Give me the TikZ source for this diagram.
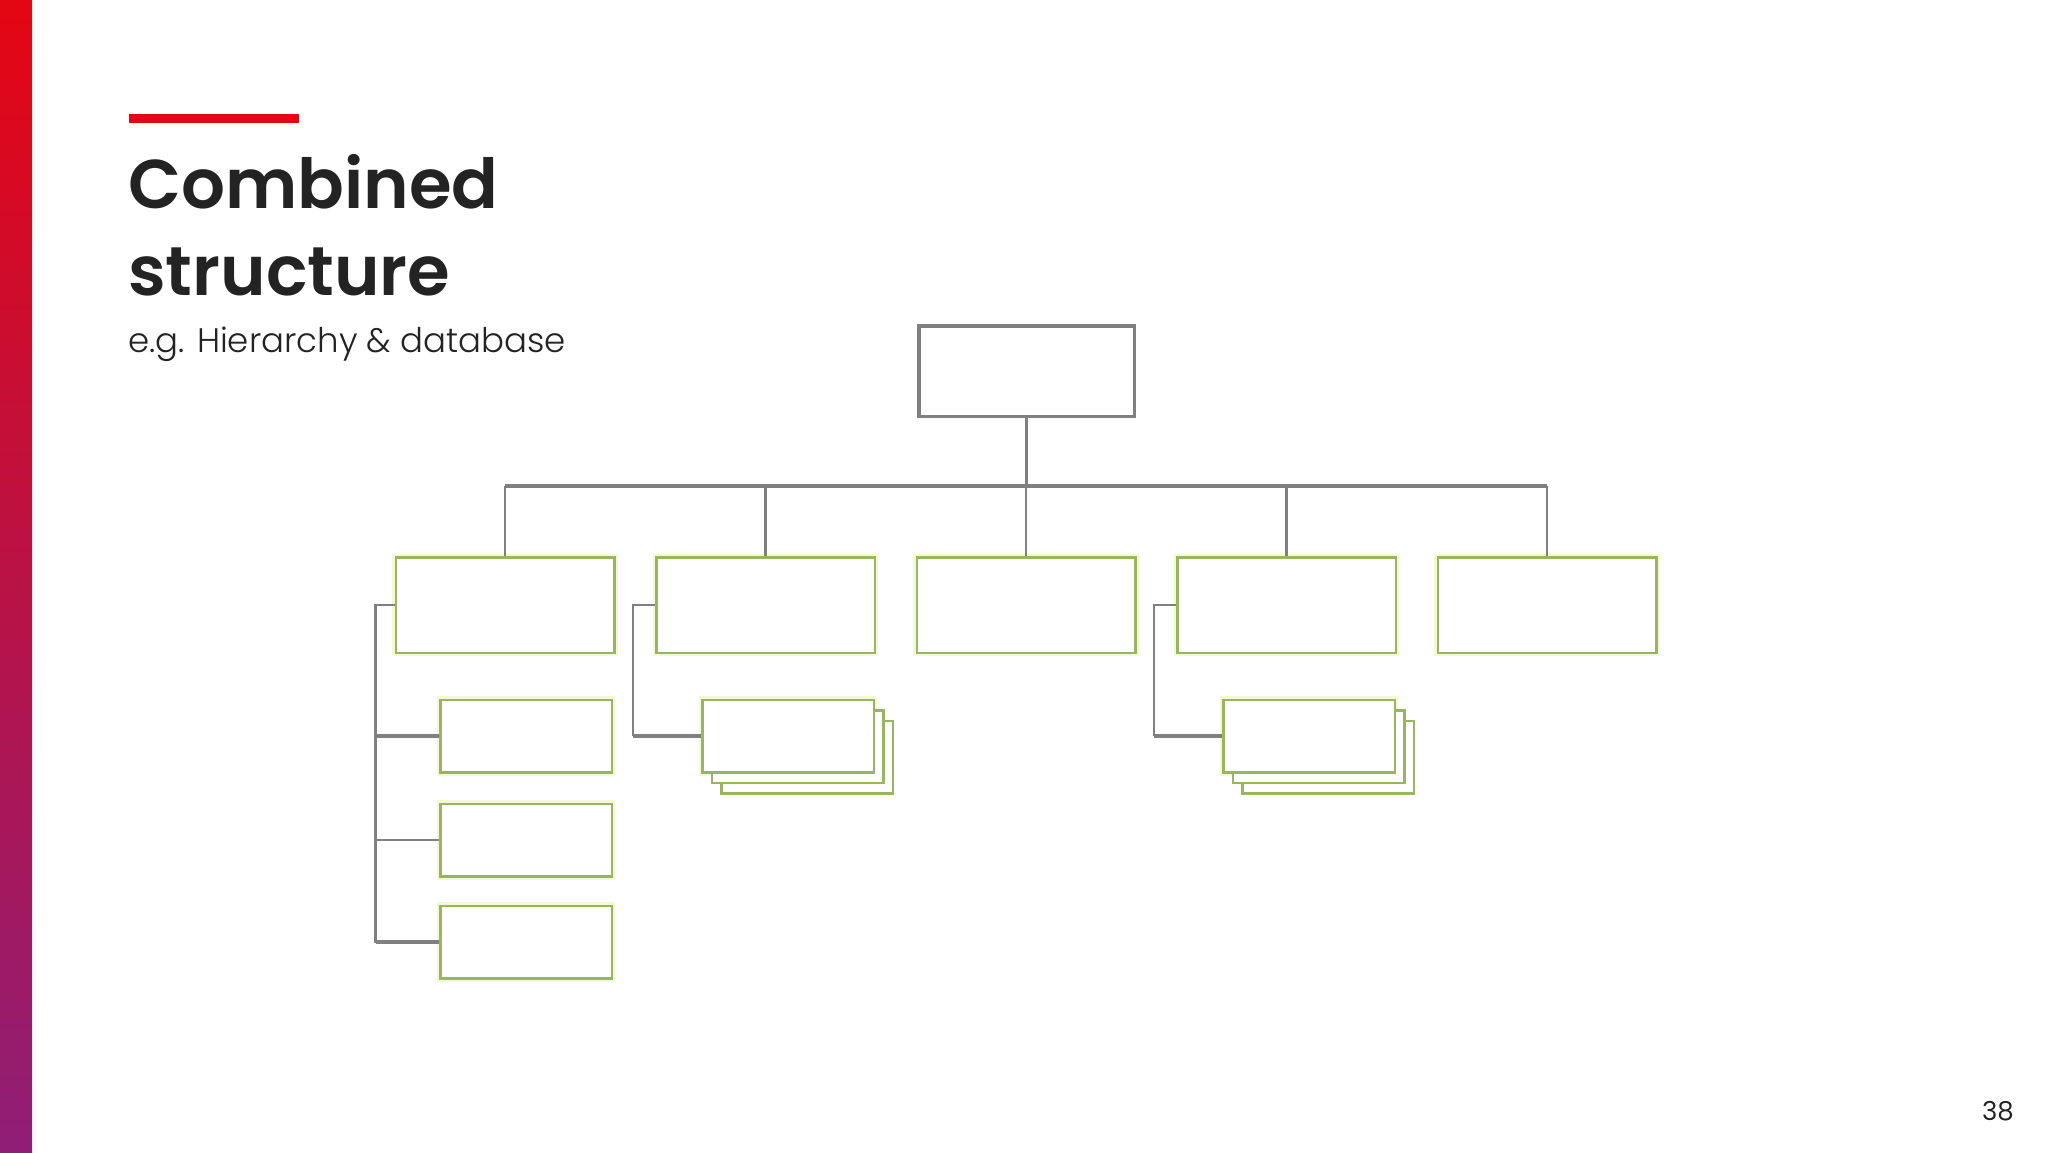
\documentclass[tikz,border=0pt]{standalone}
\usepackage{fontspec}
\setmainfont{Poppins}
\newfontfamily\lightfont{Poppins Light}
\newfontfamily\titlefont{Poppins SemiBold}
\usetikzlibrary{shadows,positioning}
\definecolor{barred}{RGB}{228,6,19}
\definecolor{barmid}{RGB}{198,16,58}
\definecolor{barpurple}{RGB}{143,30,118}
\definecolor{titlegray}{RGB}{35,35,35}
\definecolor{linegray}{RGB}{128,128,128}
\definecolor{boxgreen}{RGB}{152,182,98}
\definecolor{boxglow}{RGB}{244,249,212}

\begin{document}
\begin{tikzpicture}[x=1pt,y=-1pt,
  every node/.style={inner sep=0pt},
  headbox/.style={draw=linegray,line width=3.5pt,fill=white,minimum width=215.5pt,minimum height=90.5pt},
  unitbox/.style={draw=boxgreen,line width=2.5pt,fill=white,minimum width=218.5pt,minimum height=95.5pt,
    preaction={draw=boxglow,line width=7pt}},
  subbox/.style={unitbox,minimum width=171.5pt,minimum height=72.5pt},
  stackbox/.style={subbox,double copy shadow={shadow xshift=9.5pt,shadow yshift=-10.5pt,
    draw=boxgreen,fill=white,line width=2.5pt}},
  link/.style={draw=linegray,line width=2.5pt},
  stub/.style={link,line width=4.5pt}]

%page and side bar
    \useasboundingbox (0,0) rectangle (2048,1152);
    \fill[white] (0,0) rectangle (2048,1152);
    \shade[top color=barred,middle color=barmid,bottom color=barpurple] (0,0) rectangle (32,1152);
    \fill[barred] (129,114) rectangle (299,123);

%title
    \node[anchor=base west,text=titlegray,font=\titlefont\fontsize{69}{86}\selectfont] (title1) at (128,208) {Combined};
    \node[anchor=base west,text=titlegray,font=\titlefont\fontsize{69}{86}\selectfont] (title2) at (128,295) {structure};
    \node[anchor=base west,text=titlegray,font=\lightfont\fontsize{34}{40}\selectfont] (subtitle) at (128,352) {e.g. Hierarchy \& database};
    \node[anchor=base east,text=titlegray,font=\fontsize{26}{30}\selectfont] (page) at (2014,1120) {38};

%boxes
    \node[headbox] (root) at (1026.5,371) {};
    \foreach \i in {1,...,5}
    \node[unitbox] (u\i) at (505+260.5*\i-260.5,605) {};
    \node[subbox] (c11) at (526,736) {};
    \node[subbox] (c12) at (526,840) {};
    \node[subbox] (c13) at (526,942) {};
    \node[stackbox] (c2) at (788,736) {};
    \node[stackbox] (c4) at (1309,736) {};

%bus and drops
    \coordinate (busL) at (505,486);
    \coordinate (busR) at (1547,486);
    \draw[link,line width=4pt] (busL) -- (busR);
    \draw[link] (root.south) -- (root.south |- busL);
    \foreach \i in {1,...,5}
    \draw[link] (u\i.north) -- (u\i.north |- busL);

%brackets
    \draw[link] (u1.west) -- ++(-19,0) coordinate (k1) |- (c13.west);
    \draw[stub] (k1 |- c11.west) -- (c11.west);
    \draw[link] (k1 |- c12.west) -- (c12.west);
    \draw[stub] (k1 |- c13.west) -- (c13.west);
    \draw[link] (u2.west) -- ++(-22,0) coordinate (k2) -- (k2 |- c2.west);
    \draw[stub] (k2 |- c2.west) -- (c2.west);
    \draw[link] (u4.west) -- ++(-22,0) coordinate (k4) -- (k4 |- c4.west);
    \draw[stub] (k4 |- c4.west) -- (c4.west);

\end{tikzpicture}
\end{document}
